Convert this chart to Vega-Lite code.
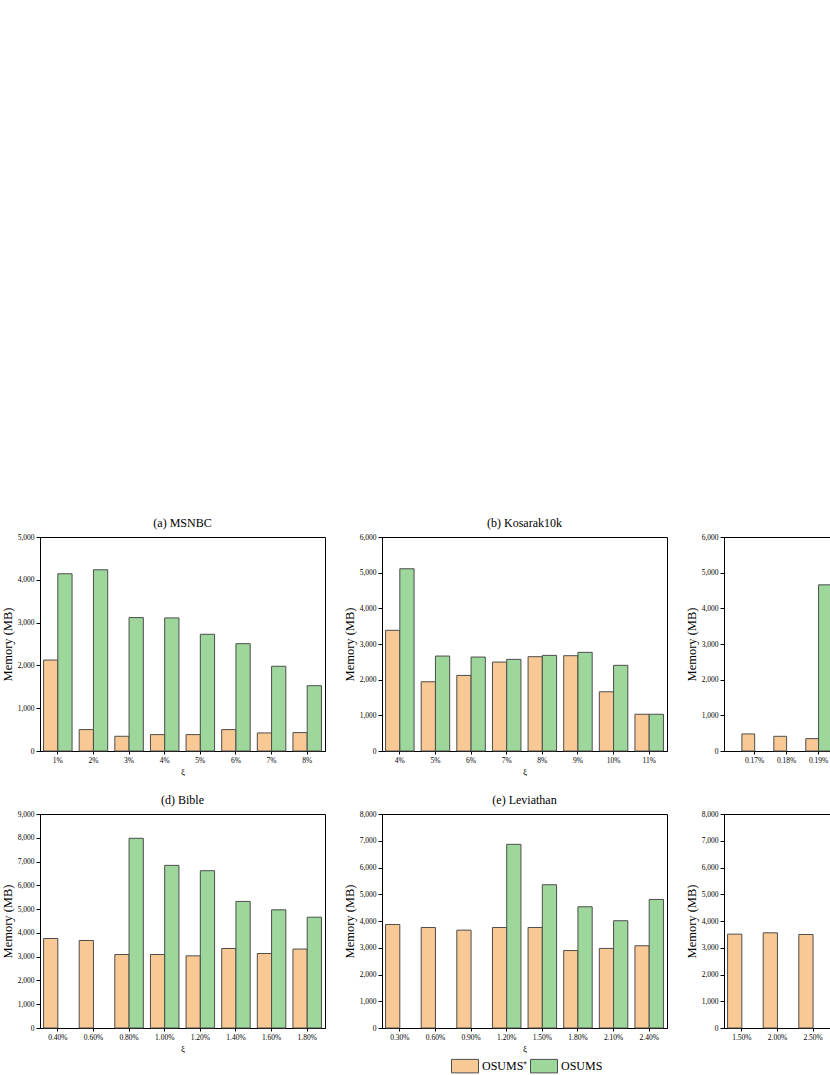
{
  "$schema": "https://vega.github.io/schema/vega-lite/v6.json",
  "padding": {"left": 0, "top": 516, "right": 0, "bottom": 0},
  "background": "white",
  "data": {"values": [
    {"panel": "a", "xi": "1%", "method": "OSUMS⁺", "memory": 2125},
    {"panel": "a", "xi": "2%", "method": "OSUMS⁺", "memory": 500},
    {"panel": "a", "xi": "3%", "method": "OSUMS⁺", "memory": 344},
    {"panel": "a", "xi": "4%", "method": "OSUMS⁺", "memory": 383},
    {"panel": "a", "xi": "5%", "method": "OSUMS⁺", "memory": 383},
    {"panel": "a", "xi": "6%", "method": "OSUMS⁺", "memory": 500},
    {"panel": "a", "xi": "7%", "method": "OSUMS⁺", "memory": 422},
    {"panel": "a", "xi": "8%", "method": "OSUMS⁺", "memory": 430},
    {"panel": "a", "xi": "1%", "method": "OSUMS", "memory": 4141},
    {"panel": "a", "xi": "2%", "method": "OSUMS", "memory": 4234},
    {"panel": "a", "xi": "3%", "method": "OSUMS", "memory": 3117},
    {"panel": "a", "xi": "4%", "method": "OSUMS", "memory": 3109},
    {"panel": "a", "xi": "5%", "method": "OSUMS", "memory": 2727},
    {"panel": "a", "xi": "6%", "method": "OSUMS", "memory": 2508},
    {"panel": "a", "xi": "7%", "method": "OSUMS", "memory": 1980},
    {"panel": "a", "xi": "8%", "method": "OSUMS", "memory": 1526},
    {"panel": "b", "xi": "4%", "method": "OSUMS⁺", "memory": 3384},
    {"panel": "b", "xi": "5%", "method": "OSUMS⁺", "memory": 1941},
    {"panel": "b", "xi": "6%", "method": "OSUMS⁺", "memory": 2119},
    {"panel": "b", "xi": "7%", "method": "OSUMS⁺", "memory": 2494},
    {"panel": "b", "xi": "8%", "method": "OSUMS⁺", "memory": 2644},
    {"panel": "b", "xi": "9%", "method": "OSUMS⁺", "memory": 2672},
    {"panel": "b", "xi": "10%", "method": "OSUMS⁺", "memory": 1660},
    {"panel": "b", "xi": "11%", "method": "OSUMS⁺", "memory": 1030},
    {"panel": "b", "xi": "4%", "method": "OSUMS", "memory": 5109},
    {"panel": "b", "xi": "5%", "method": "OSUMS", "memory": 2662},
    {"panel": "b", "xi": "6%", "method": "OSUMS", "memory": 2634},
    {"panel": "b", "xi": "7%", "method": "OSUMS", "memory": 2569},
    {"panel": "b", "xi": "8%", "method": "OSUMS", "memory": 2681},
    {"panel": "b", "xi": "9%", "method": "OSUMS", "memory": 2766},
    {"panel": "b", "xi": "10%", "method": "OSUMS", "memory": 2402},
    {"panel": "b", "xi": "11%", "method": "OSUMS", "memory": 1030},
    {"panel": "c", "xi": "0.17%", "method": "OSUMS⁺", "memory": 478},
    {"panel": "c", "xi": "0.18%", "method": "OSUMS⁺", "memory": 412},
    {"panel": "c", "xi": "0.19%", "method": "OSUMS⁺", "memory": 347},
    {"panel": "c", "xi": "0.19%", "method": "OSUMS", "memory": 4659},
    {"panel": "d", "xi": "0.40%", "method": "OSUMS⁺", "memory": 3764},
    {"panel": "d", "xi": "0.60%", "method": "OSUMS⁺", "memory": 3680},
    {"panel": "d", "xi": "0.80%", "method": "OSUMS⁺", "memory": 3090},
    {"panel": "d", "xi": "1.00%", "method": "OSUMS⁺", "memory": 3090},
    {"panel": "d", "xi": "1.20%", "method": "OSUMS⁺", "memory": 3034},
    {"panel": "d", "xi": "1.40%", "method": "OSUMS⁺", "memory": 3343},
    {"panel": "d", "xi": "1.60%", "method": "OSUMS⁺", "memory": 3132},
    {"panel": "d", "xi": "1.80%", "method": "OSUMS⁺", "memory": 3320},
    {"panel": "d", "xi": "0.80%", "method": "OSUMS", "memory": 7978},
    {"panel": "d", "xi": "1.00%", "method": "OSUMS", "memory": 6840},
    {"panel": "d", "xi": "1.20%", "method": "OSUMS", "memory": 6615},
    {"panel": "d", "xi": "1.40%", "method": "OSUMS", "memory": 5323},
    {"panel": "d", "xi": "1.60%", "method": "OSUMS", "memory": 4970},
    {"panel": "d", "xi": "1.80%", "method": "OSUMS", "memory": 4660},
    {"panel": "e", "xi": "0.30%", "method": "OSUMS⁺", "memory": 3870},
    {"panel": "e", "xi": "0.60%", "method": "OSUMS⁺", "memory": 3758},
    {"panel": "e", "xi": "0.90%", "method": "OSUMS⁺", "memory": 3658},
    {"panel": "e", "xi": "1.20%", "method": "OSUMS⁺", "memory": 3758},
    {"panel": "e", "xi": "1.50%", "method": "OSUMS⁺", "memory": 3758},
    {"panel": "e", "xi": "1.80%", "method": "OSUMS⁺", "memory": 2896},
    {"panel": "e", "xi": "2.10%", "method": "OSUMS⁺", "memory": 2975},
    {"panel": "e", "xi": "2.40%", "method": "OSUMS⁺", "memory": 3075},
    {"panel": "e", "xi": "1.20%", "method": "OSUMS", "memory": 6866},
    {"panel": "e", "xi": "1.50%", "method": "OSUMS", "memory": 5356},
    {"panel": "e", "xi": "1.80%", "method": "OSUMS", "memory": 4532},
    {"panel": "e", "xi": "2.10%", "method": "OSUMS", "memory": 4010},
    {"panel": "e", "xi": "2.40%", "method": "OSUMS", "memory": 4805},
    {"panel": "f", "xi": "1.50%", "method": "OSUMS⁺", "memory": 3508},
    {"panel": "f", "xi": "2.00%", "method": "OSUMS⁺", "memory": 3558},
    {"panel": "f", "xi": "2.50%", "method": "OSUMS⁺", "memory": 3496}
  ]},
  "columns": 3,
  "bounds": "flush",
  "spacing": {"row": 63, "column": 57},
  "resolve": {
    "scale": {"x": "independent", "y": "independent", "xOffset": "independent", "color": "independent"},
    "legend": {"color": "independent"}
  },
  "concat": [
    {
      "title": "(a) MSNBC",
      "width": 285, "height": 214,
      "transform": [{"filter": "datum.panel == 'a'"}],
      "mark": {"type": "bar", "stroke": "#4d4d4d", "strokeWidth": 1},
      "encoding": {
        "x": {"field": "xi", "type": "nominal", "scale": {"domain": ["1%", "2%", "3%", "4%", "5%", "6%", "7%", "8%"], "paddingInner": 0.2, "paddingOuter": 0.1}, "axis": {"title": "ξ", "labelAngle": 0}},
        "xOffset": {"field": "method", "type": "nominal", "scale": {"domain": ["OSUMS⁺", "OSUMS"]}},
        "y": {"field": "memory", "type": "quantitative", "scale": {"domain": [0, 5000]}, "axis": {"title": "Memory (MB)", "values": [0, 1000, 2000, 3000, 4000, 5000], "format": ",d"}},
        "color": {"field": "method", "type": "nominal", "scale": {"domain": ["OSUMS⁺", "OSUMS"], "range": ["#F9C995", "#9DD79B"]}, "legend": null}
      }
    },
    {
      "title": "(b) Kosarak10k",
      "width": 285, "height": 214,
      "transform": [{"filter": "datum.panel == 'b'"}],
      "mark": {"type": "bar", "stroke": "#4d4d4d", "strokeWidth": 1},
      "encoding": {
        "x": {"field": "xi", "type": "nominal", "scale": {"domain": ["4%", "5%", "6%", "7%", "8%", "9%", "10%", "11%"], "paddingInner": 0.2, "paddingOuter": 0.1}, "axis": {"title": "ξ", "labelAngle": 0}},
        "xOffset": {"field": "method", "type": "nominal", "scale": {"domain": ["OSUMS⁺", "OSUMS"]}},
        "y": {"field": "memory", "type": "quantitative", "scale": {"domain": [0, 6000]}, "axis": {"title": "Memory (MB)", "values": [0, 1000, 2000, 3000, 4000, 5000, 6000], "format": ",d"}},
        "color": {"field": "method", "type": "nominal", "scale": {"domain": ["OSUMS⁺", "OSUMS"], "range": ["#F9C995", "#9DD79B"]}, "legend": null}
      }
    },
    {
      "title": "(c)",
      "width": 285, "height": 214,
      "transform": [{"filter": "datum.panel == 'c'"}],
      "mark": {"type": "bar", "stroke": "#4d4d4d", "strokeWidth": 1},
      "encoding": {
        "x": {"field": "xi", "type": "nominal", "scale": {"domain": ["0.17%", "0.18%", "0.19%", "0.20%", "0.21%", "0.22%", "0.23%", "0.24%"], "paddingInner": 0.2, "paddingOuter": 0.56}, "axis": {"title": "ξ", "labelAngle": 0}},
        "xOffset": {"field": "method", "type": "nominal", "scale": {"domain": ["OSUMS⁺", "OSUMS"]}},
        "y": {"field": "memory", "type": "quantitative", "scale": {"domain": [0, 6000]}, "axis": {"title": "Memory (MB)", "values": [0, 1000, 2000, 3000, 4000, 5000, 6000], "format": ",d"}},
        "color": {"field": "method", "type": "nominal", "scale": {"domain": ["OSUMS⁺", "OSUMS"], "range": ["#F9C995", "#9DD79B"]}, "legend": null}
      }
    },
    {
      "title": "(d) Bible",
      "width": 285, "height": 214,
      "transform": [{"filter": "datum.panel == 'd'"}],
      "mark": {"type": "bar", "stroke": "#4d4d4d", "strokeWidth": 1},
      "encoding": {
        "x": {"field": "xi", "type": "nominal", "scale": {"domain": ["0.40%", "0.60%", "0.80%", "1.00%", "1.20%", "1.40%", "1.60%", "1.80%"], "paddingInner": 0.2, "paddingOuter": 0.1}, "axis": {"title": "ξ", "labelAngle": 0}},
        "xOffset": {"field": "method", "type": "nominal", "scale": {"domain": ["OSUMS⁺", "OSUMS"]}},
        "y": {"field": "memory", "type": "quantitative", "scale": {"domain": [0, 9000]}, "axis": {"title": "Memory (MB)", "values": [0, 1000, 2000, 3000, 4000, 5000, 6000, 7000, 8000, 9000], "format": ",d"}},
        "color": {"field": "method", "type": "nominal", "scale": {"domain": ["OSUMS⁺", "OSUMS"], "range": ["#F9C995", "#9DD79B"]}, "legend": null}
      }
    },
    {
      "title": "(e) Leviathan",
      "width": 285, "height": 214,
      "transform": [{"filter": "datum.panel == 'e'"}],
      "mark": {"type": "bar", "stroke": "#4d4d4d", "strokeWidth": 1},
      "encoding": {
        "x": {"field": "xi", "type": "nominal", "scale": {"domain": ["0.30%", "0.60%", "0.90%", "1.20%", "1.50%", "1.80%", "2.10%", "2.40%"], "paddingInner": 0.2, "paddingOuter": 0.1}, "axis": {"title": "ξ", "labelAngle": 0}},
        "xOffset": {"field": "method", "type": "nominal", "scale": {"domain": ["OSUMS⁺", "OSUMS"]}},
        "y": {"field": "memory", "type": "quantitative", "scale": {"domain": [0, 8000]}, "axis": {"title": "Memory (MB)", "values": [0, 1000, 2000, 3000, 4000, 5000, 6000, 7000, 8000], "format": ",d"}},
        "color": {"field": "method", "type": "nominal", "scale": {"domain": ["OSUMS⁺", "OSUMS"], "range": ["#F9C995", "#9DD79B"]},
          "legend": {"orient": "none", "legendX": 69, "legendY": 238, "direction": "horizontal", "title": null, "symbolType": "M-1,-0.5H1V0.5H-1Z", "symbolSize": 729, "symbolStrokeColor": "#4d4d4d", "symbolStrokeWidth": 1, "symbolOpacity": 1, "labelFontSize": 12, "labelFont": "Liberation Serif", "labelColor": "black", "labelOffset": 3, "columnPadding": 0, "padding": 0}}
      }
    },
    {
      "title": "(f)",
      "width": 285, "height": 214,
      "transform": [{"filter": "datum.panel == 'f'"}],
      "mark": {"type": "bar", "stroke": "#4d4d4d", "strokeWidth": 1},
      "encoding": {
        "x": {"field": "xi", "type": "nominal", "scale": {"domain": ["1.50%", "2.00%", "2.50%", "3.00%", "3.50%", "4.00%", "4.50%", "5.00%"], "paddingInner": 0.2, "paddingOuter": 0.1}, "axis": {"title": "ξ", "labelAngle": 0}},
        "xOffset": {"field": "method", "type": "nominal", "scale": {"domain": ["OSUMS⁺", "OSUMS"]}},
        "y": {"field": "memory", "type": "quantitative", "scale": {"domain": [0, 8000]}, "axis": {"title": "Memory (MB)", "values": [0, 1000, 2000, 3000, 4000, 5000, 6000, 7000, 8000], "format": ",d"}},
        "color": {"field": "method", "type": "nominal", "scale": {"domain": ["OSUMS⁺", "OSUMS"], "range": ["#F9C995", "#9DD79B"]}, "legend": null}
      }
    }
  ],
  "config": {
    "font": "Liberation Serif",
    "view": {"stroke": "black", "strokeWidth": 1},
    "axis": {"domainColor": "black", "tickColor": "black", "labelColor": "black", "titleColor": "black", "grid": false, "labelFont": "Liberation Serif", "titleFont": "Liberation Serif", "labelFontSize": 7.5, "titleFontWeight": "normal"},
    "axisY": {"titleFontSize": 12.5, "tickSize": 4, "titlePadding": 3},
    "axisX": {"titleFontSize": 9, "tickSize": 3, "titlePadding": 4},
    "title": {"font": "Liberation Serif", "fontSize": 12, "fontWeight": "normal", "offset": 3, "anchor": "middle", "color": "black"}
  }
}
